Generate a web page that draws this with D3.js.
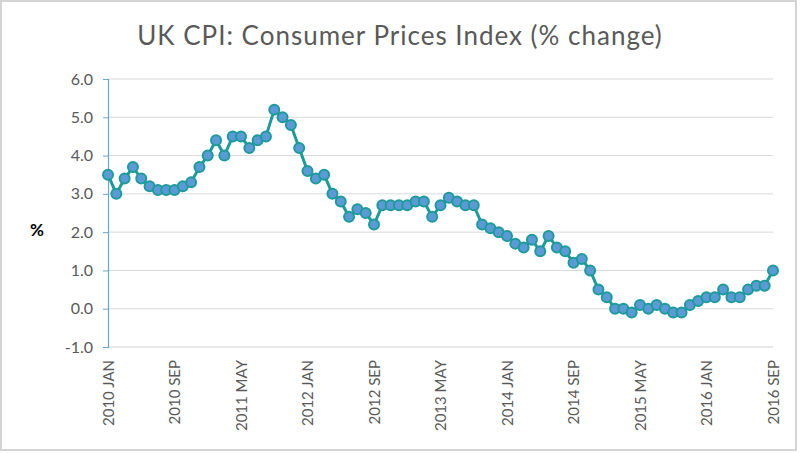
<!DOCTYPE html>
<html>
<head>
<meta charset="utf-8">
<script src="https://cdn.jsdelivr.net/npm/d3@7"></script>
<style>
  html, body { margin: 0; padding: 0; background: #ffffff; }
  svg { display: block; font-family: Lato, "Open Sans", sans-serif; }
</style>
</head>
<body>
<svg id="chart" width="800" height="453"></svg>
<script>
const title = "UK CPI: Consumer Prices Index (% change)";
const yAxisLabel = "%";
const years = [2010, 2011, 2012, 2013, 2014, 2015, 2016];
const monthNames = ["JAN","FEB","MAR","APR","MAY","JUN","JUL","AUG","SEP","OCT","NOV","DEC"];
const cpi2010 = [3.5, 3.0, 3.4, 3.7, 3.4, 3.2, 3.1, 3.1, 3.1, 3.2, 3.3, 3.7];
const cpi2011 = [4.0, 4.4, 4.0, 4.5, 4.5, 4.2, 4.4, 4.5, 5.2, 5.0, 4.8, 4.2];
const cpi2012 = [3.6, 3.4, 3.5, 3.0, 2.8, 2.4, 2.6, 2.5, 2.2, 2.7, 2.7, 2.7];
const cpi2013 = [2.7, 2.8, 2.8, 2.4, 2.7, 2.9, 2.8, 2.7, 2.7, 2.2, 2.1, 2.0];
const cpi2014 = [1.9, 1.7, 1.6, 1.8, 1.5, 1.9, 1.6, 1.5, 1.2, 1.3, 1.0, 0.5];
const cpi2015 = [0.3, 0.0, 0.0, -0.1, 0.1, 0.0, 0.1, 0.0, -0.1, -0.1, 0.1, 0.2];
const cpi2016 = [0.3, 0.3, 0.5, 0.3, 0.3, 0.5, 0.6, 0.6, 1.0];
const yTicks = [-1.0, 0.0, 1.0, 2.0, 3.0, 4.0, 5.0, 6.0];
const xTickLabels = ["2010 JAN","2010 SEP","2011 MAY","2012 JAN","2012 SEP","2013 MAY","2014 JAN","2014 SEP","2015 MAY","2016 JAN","2016 SEP"];

(function () {
const series = [cpi2010, cpi2011, cpi2012, cpi2013, cpi2014, cpi2015, cpi2016];
const data = [];
series.forEach((arr, yi) => arr.forEach((v, mi) => {
  data.push({ label: years[yi] + " " + monthNames[mi], value: v });
}));

const svg = d3.select("#chart");

// outer frame
svg.append("rect").attr("x", 1).attr("y", 1).attr("width", 795).attr("height", 449)
  .attr("fill", "#ffffff").attr("stroke", "#d4d4d4").attr("stroke-width", 2);

const pLeft = 108, pRight = 773, pTop = 79, pBottom = 347;

const x = d3.scalePoint().domain(data.map(d => d.label)).range([pLeft, pRight]);
const y = d3.scaleLinear().domain([-1, 6]).range([pBottom, pTop]);

// gridlines
svg.append("g").selectAll("line").data(yTicks.filter(t => t > -1)).join("line")
  .attr("x1", pLeft).attr("x2", pRight)
  .attr("y1", d => y(d)).attr("y2", d => y(d))
  .attr("stroke", "#d9d9d9").attr("stroke-width", 1);

// x axis line
svg.append("line").attr("x1", pLeft).attr("x2", pRight)
  .attr("y1", y(-1)).attr("y2", y(-1))
  .attr("stroke", "#d0d0d0").attr("stroke-width", 1);

// y axis
const fmt = v => d3.format(".1f")(v).replace("\u2212", "-");
const yAxis = d3.axisLeft(y).tickValues(yTicks).tickFormat(fmt).tickSize(5).tickPadding(10);
const gy = svg.append("g").attr("transform", `translate(${pLeft},0)`).call(yAxis);
gy.select(".domain").attr("stroke", "#6aa6c8").attr("stroke-width", 1.2);
gy.selectAll(".tick line").attr("stroke", "#6aa6c8");
gy.selectAll(".tick text").attr("fill", "#595959").style("font-size", "16px")
  .style("font-family", "Lato, 'Open Sans', sans-serif");

// x axis labels
const xAxis = d3.axisBottom(x).tickValues(xTickLabels).tickSize(0).tickPadding(0);
const gx = svg.append("g").attr("transform", `translate(0,${pBottom})`).call(xAxis);
gx.select(".domain").remove();
gx.selectAll(".tick text")
  .attr("transform", "rotate(-90)")
  .attr("x", -13).attr("y", 0).attr("dy", "0.35em")
  .attr("text-anchor", "end")
  .attr("fill", "#595959").style("font-size", "15px")
  .style("font-family", "Lato, 'Open Sans', sans-serif");

// line
const line = d3.line().x(d => x(d.label)).y(d => y(d.value));
svg.append("path").datum(data).attr("d", line)
  .attr("fill", "none").attr("stroke", "#1f9a9a").attr("stroke-width", 3)
  .attr("stroke-linejoin", "round");

// markers
svg.append("g").selectAll("circle").data(data).join("circle")
  .attr("cx", d => x(d.label)).attr("cy", d => y(d.value)).attr("r", 5)
  .attr("fill", "#5b9bd5").attr("stroke", "#1f9a9a").attr("stroke-width", 2);

// title
svg.append("text").attr("x", 400).attr("y", 45).attr("text-anchor", "middle")
  .attr("fill", "#595959").style("font-size", "26px").style("letter-spacing", "1px")
  .style("font-family", "Lato, 'Open Sans', sans-serif")
  .text(title);

// y label
svg.append("text").attr("x", 37).attr("y", 236).attr("text-anchor", "middle")
  .attr("fill", "#000000").style("font-size", "17px").style("font-weight", "bold")
  .style("font-family", "Lato, 'Open Sans', sans-serif")
  .text(yAxisLabel);
})();
</script>
</body>
</html>
